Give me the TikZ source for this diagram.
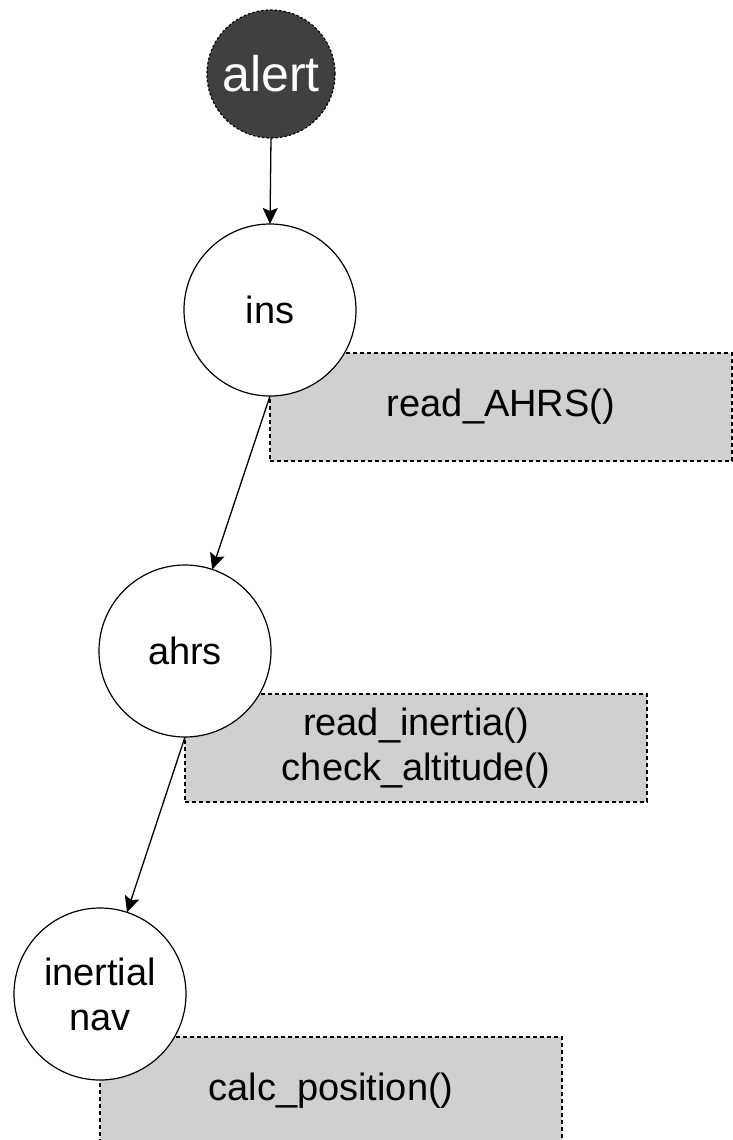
\documentclass[tikz,border=0pt]{standalone}
\usepackage{fontspec}
\setmainfont{Liberation Sans}
\usetikzlibrary{arrows.meta}
\definecolor{alertfill}{HTML}{404040}
\definecolor{boxfill}{HTML}{D0D0D0}
\tikzset{
  state/.style={circle, draw=black, line width=1.2pt, fill=white, minimum size=172pt, inner sep=0pt, outer sep=0pt, font=\fontsize{38}{45}\selectfont, align=center},
  startstate/.style={circle, draw=black, line width=1.2pt, dash pattern=on 2.5pt off 2pt, fill=alertfill, minimum size=128pt, inner sep=0pt, outer sep=0pt, text=white, font=\fontsize{50}{60}\selectfont},
  codebox/.style={rectangle, draw=black, line width=1.2pt, dash pattern=on 4pt off 3pt, fill=boxfill, minimum width=462pt, minimum height=108pt, inner sep=0pt, outer sep=0pt, anchor=north west, align=center, font=\fontsize{38}{45}\selectfont},
  flow/.style={-{Stealth[length=16pt,width=15pt,inset=3pt]}, line width=1.3pt, draw=black}
}
\begin{document}
\begin{tikzpicture}[x=1pt,y=1pt]
\clip (0,0) rectangle (733,-1140);
\fill[white] (0,0) rectangle (733,-1140);
% code boxes
\node[codebox] (b1) at (270,-353) {read\_AHRS()};
\node[codebox] (b2) at (185,-694) {read\_inertia()\\check\_altitude()};
\node[codebox] (b3) at (100,-1037) {calc\_position()};
% states
\node[startstate] (alert) at (271,-74) {alert};
\node[state] (ins) at (270,-310) {ins};
\node[state] (ahrs) at (185,-651) {ahrs};
\node[state] (nav) at (100,-994) {inertial\\nav};
% transitions
\draw[flow] (alert.south) -- (ins.north);
\draw[flow] (ins.south) -- (ahrs);
\draw[flow] (ahrs.south) -- (nav);
\end{tikzpicture}
\end{document}
